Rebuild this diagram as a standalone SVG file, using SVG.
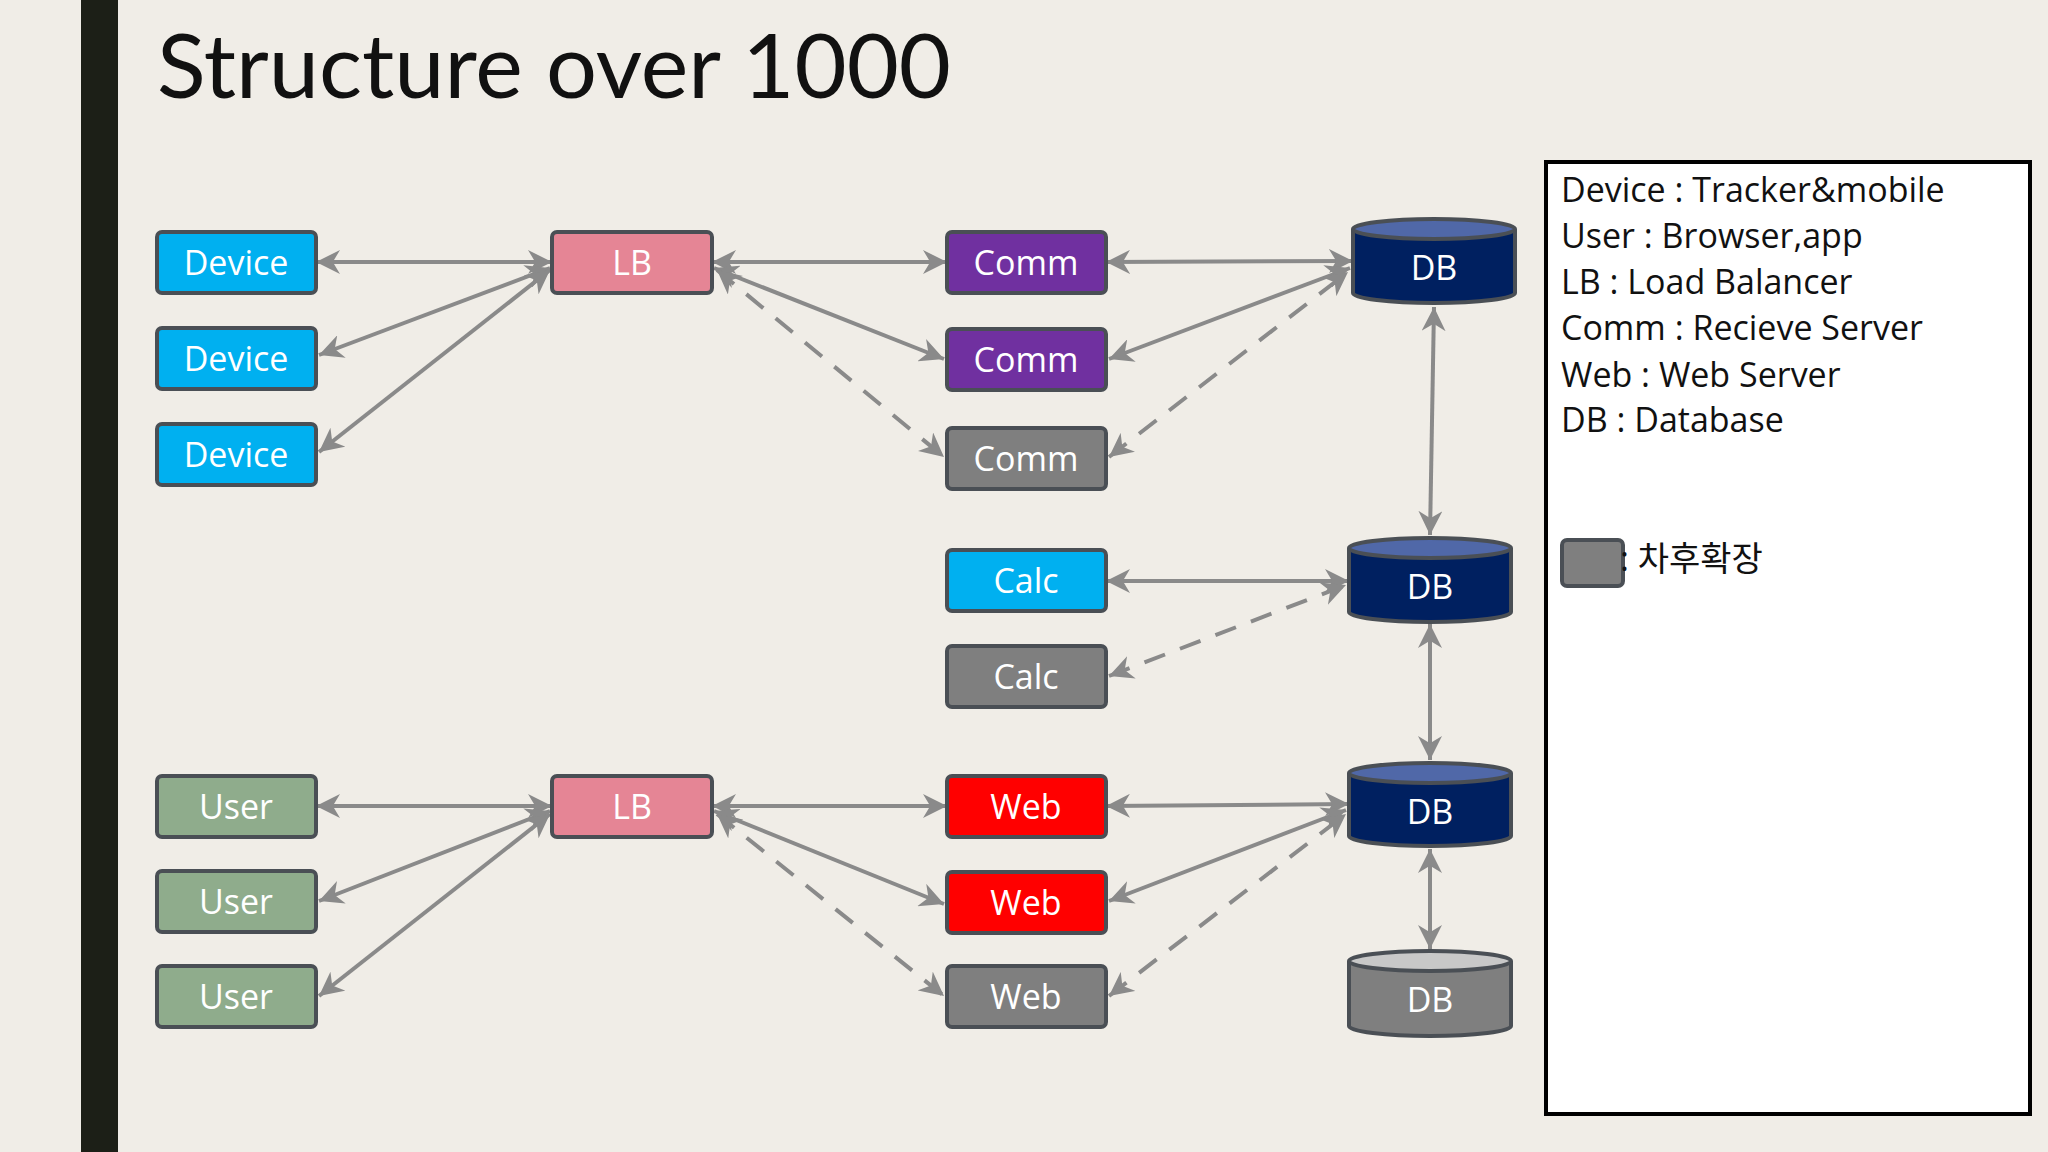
<svg xmlns="http://www.w3.org/2000/svg" width="2048" height="1152" viewBox="0 0 2048 1152">
<defs>
<style>
.box{stroke:#4a4f55;stroke-width:4}
.t{font-family:"Open Sans","Noto Sans",sans-serif;font-size:34px;fill:#fff;text-anchor:middle}
.c{stroke:#8a8a8a;stroke-width:4;fill:none;marker-start:url(#a);marker-end:url(#a)}
.d{stroke-dasharray:22 16}
.lg{font-family:"Open Sans","Noto Sans","Noto Sans CJK KR",sans-serif;font-size:34px;fill:#111}
.cyl{stroke:#4a4f55;stroke-width:4}
</style>
<marker id="a" viewBox="0 0 10 10" refX="10" refY="5" markerWidth="24" markerHeight="24" markerUnits="userSpaceOnUse" orient="auto-start-reverse">
<path d="M0,0 L10,5 L0,10 L3,5 Z" fill="#8a8a8a"/>
</marker>
</defs>
<rect width="2048" height="1152" fill="#f0ede7"/>
<rect x="81" y="0" width="37" height="1152" fill="#1c1f17"/>
<text x="157" y="98" font-family="Lato,'Open Sans',sans-serif" font-size="90" fill="#111">Structure over 1000</text>

<g id="connectors">
<line class="c" x1="316" y1="262" x2="552" y2="262"/>
<line class="c" x1="319" y1="355" x2="550" y2="268"/>
<line class="c" x1="319" y1="452" x2="550" y2="270"/>
<line class="c" x1="712" y1="262" x2="947" y2="262"/>
<line class="c" x1="714" y1="268" x2="944" y2="359"/>
<line class="c d" x1="717" y1="270" x2="944" y2="457"/>
<line class="c" x1="1106" y1="262" x2="1353" y2="261"/>
<line class="c" x1="1109" y1="359" x2="1350" y2="268"/>
<line class="c d" x1="1109" y1="457" x2="1348" y2="272"/>
<line class="c" x1="1434" y1="307" x2="1430" y2="535"/>
<line class="c" x1="1106" y1="581" x2="1349" y2="581"/>
<line class="c d" x1="1109" y1="676" x2="1346" y2="585"/>
<line class="c" x1="1430" y1="624" x2="1430" y2="760"/>
<line class="c" x1="316" y1="806" x2="552" y2="806"/>
<line class="c" x1="319" y1="901" x2="550" y2="811"/>
<line class="c" x1="319" y1="996" x2="550" y2="814"/>
<line class="c" x1="712" y1="806" x2="947" y2="806"/>
<line class="c" x1="714" y1="811" x2="944" y2="904"/>
<line class="c d" x1="717" y1="814" x2="944" y2="996"/>
<line class="c" x1="1106" y1="806" x2="1349" y2="804"/>
<line class="c" x1="1109" y1="901" x2="1346" y2="810"/>
<line class="c d" x1="1109" y1="996" x2="1346" y2="814"/>
<line class="c" x1="1430" y1="849" x2="1430" y2="949"/>
</g>

<g id="device1"><rect class="box" x="157" y="232" width="159" height="61" rx="5" fill="#00b0f0"/><text class="t" x="236" y="275">Device</text></g>
<g id="device2"><rect class="box" x="157" y="328" width="159" height="61" rx="5" fill="#00b0f0"/><text class="t" x="236" y="371">Device</text></g>
<g id="device3"><rect class="box" x="157" y="424" width="159" height="61" rx="5" fill="#00b0f0"/><text class="t" x="236" y="467">Device</text></g>
<g id="lb1"><rect class="box" x="552" y="232" width="160" height="61" rx="5" fill="#e58595"/><text class="t" x="632" y="275">LB</text></g>
<g id="comm1"><rect class="box" x="947" y="232" width="159" height="61" rx="5" fill="#7030a0"/><text class="t" x="1026" y="275">Comm</text></g>
<g id="comm2"><rect class="box" x="947" y="329" width="159" height="61" rx="5" fill="#7030a0"/><text class="t" x="1026" y="372">Comm</text></g>
<g id="comm3"><rect class="box" x="947" y="428" width="159" height="61" rx="5" fill="#7f7f7f"/><text class="t" x="1026" y="471">Comm</text></g>
<g id="calc1"><rect class="box" x="947" y="550" width="159" height="61" rx="5" fill="#00b0f0"/><text class="t" x="1026" y="593">Calc</text></g>
<g id="calc2"><rect class="box" x="947" y="646" width="159" height="61" rx="5" fill="#7f7f7f"/><text class="t" x="1026" y="689">Calc</text></g>
<g id="user1"><rect class="box" x="157" y="776" width="159" height="61" rx="5" fill="#8fac8c"/><text class="t" x="236" y="819">User</text></g>
<g id="user2"><rect class="box" x="157" y="871" width="159" height="61" rx="5" fill="#8fac8c"/><text class="t" x="236" y="914">User</text></g>
<g id="user3"><rect class="box" x="157" y="966" width="159" height="61" rx="5" fill="#8fac8c"/><text class="t" x="236" y="1009">User</text></g>
<g id="lb2"><rect class="box" x="552" y="776" width="160" height="61" rx="5" fill="#e58595"/><text class="t" x="632" y="819">LB</text></g>
<g id="web1"><rect class="box" x="947" y="776" width="159" height="61" rx="5" fill="#ff0000"/><text class="t" x="1026" y="819">Web</text></g>
<g id="web2"><rect class="box" x="947" y="872" width="159" height="61" rx="5" fill="#ff0000"/><text class="t" x="1026" y="915">Web</text></g>
<g id="web3"><rect class="box" x="947" y="966" width="159" height="61" rx="5" fill="#7f7f7f"/><text class="t" x="1026" y="1009">Web</text></g>

<g id="db1"><path class="cyl" d="M1353,229 V293 A81,10 0 0 0 1515,293 V229" fill="#002060"/><ellipse class="cyl" cx="1434" cy="229" rx="81" ry="10" fill="#5068a8"/><text class="t" x="1434" y="280">DB</text></g>
<g id="db2"><path class="cyl" d="M1349,548 V612 A81,10 0 0 0 1511,612 V548" fill="#002060"/><ellipse class="cyl" cx="1430" cy="548" rx="81" ry="10" fill="#5068a8"/><text class="t" x="1430" y="599">DB</text></g>
<g id="db3"><path class="cyl" d="M1349,773 V836 A81,10 0 0 0 1511,836 V773" fill="#002060"/><ellipse class="cyl" cx="1430" cy="773" rx="81" ry="10" fill="#5068a8"/><text class="t" x="1430" y="824">DB</text></g>
<g id="db4"><path class="cyl" d="M1349,961 V1026 A81,10 0 0 0 1511,1026 V961" fill="#7f7f7f"/><ellipse class="cyl" cx="1430" cy="961" rx="81" ry="10" fill="#c8c8c8"/><text class="t" x="1430" y="1012">DB</text></g>

<g id="legend">
<rect x="1546" y="162" width="484" height="952" fill="#fff" stroke="#000" stroke-width="4"/>
<text class="lg" x="1561" y="202">Device : Tracker&amp;mobile</text>
<text class="lg" x="1561" y="248">User : Browser,app</text>
<text class="lg" x="1561" y="294">LB : Load Balancer</text>
<text class="lg" x="1561" y="340">Comm : Recieve Server</text>
<text class="lg" x="1561" y="387">Web : Web Server</text>
<text class="lg" x="1561" y="432">DB : Database</text>
<rect class="box" x="1562" y="540" width="61" height="46" rx="5" fill="#7f7f7f"/>
<text class="lg" x="1620" y="571">: 차후확장</text>
</g>
</svg>
